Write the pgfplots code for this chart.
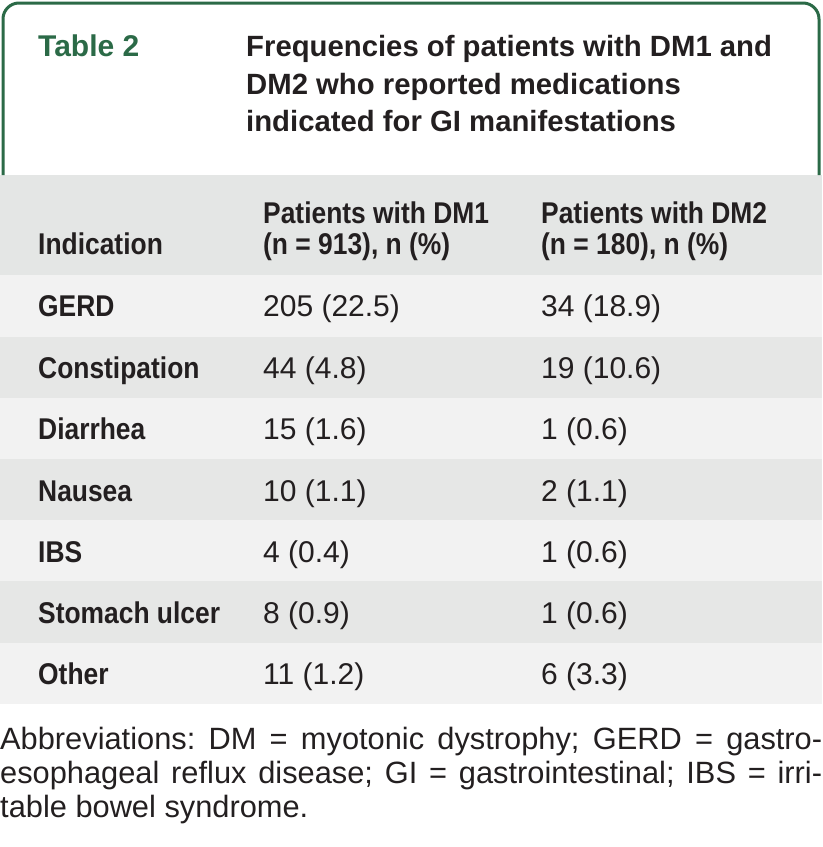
\documentclass[border=0pt]{standalone}
\usepackage{pgfplots}
\pgfplotsset{compat=1.18}
\usepackage{pgfplotstable}
\usepackage{fontspec}
\setmainfont{Liberation Sans}
\newfontfamily\bodyb[FakeStretch=0.88]{Liberation Sans Bold}
\newfontfamily\bodyr[FakeStretch=1.0]{Liberation Sans}
\definecolor{tgreen}{HTML}{2B6A47}
\definecolor{txt}{HTML}{231F20}
\definecolor{hdr}{HTML}{E4E6E5}
\definecolor{rowa}{HTML}{F2F2F2}
\definecolor{rowb}{HTML}{E6E7E6}
\pgfplotstableread[col sep=comma]{
y,ind,dmone,dmtwo
316,GERD,205 (22.5),34 (18.9)
378,Constipation,44 (4.8),19 (10.6)
439,Diarrhea,15 (1.6),1 (0.6)
501,Nausea,10 (1.1),2 (1.1)
562,IBS,4 (0.4),1 (0.6)
623,Stomach ulcer,8 (0.9),1 (0.6)
684,Other,11 (1.2),6 (3.3)
}\rows
\begin{document}
\begin{tikzpicture}
\begin{axis}[x=1pt,y=1pt,xmin=0,xmax=822,ymin=0,ymax=847,y dir=reverse,
  hide axis,clip=false,scale only axis]
\path (axis cs:0,0) rectangle (axis cs:822,847);
% bands
\fill[hdr] (axis cs:0,175) rectangle (axis cs:822,275);
\fill[rowa] (axis cs:0,275) rectangle (axis cs:822,337);
\fill[rowb] (axis cs:0,337) rectangle (axis cs:822,398);
\fill[rowa] (axis cs:0,398) rectangle (axis cs:822,459);
\fill[rowb] (axis cs:0,459) rectangle (axis cs:822,520);
\fill[rowa] (axis cs:0,520) rectangle (axis cs:822,581);
\fill[rowb] (axis cs:0,581) rectangle (axis cs:822,643);
\fill[rowa] (axis cs:0,643) rectangle (axis cs:822,704);
% frame
\draw[tgreen,line width=3pt,rounded corners=16pt] (axis cs:3,175) -- (axis cs:3,3) -- (axis cs:819,3) -- (axis cs:819,175);
% title
\node[anchor=base west,inner sep=0pt,text=tgreen,font=\fontsize{30}{37}\selectfont\bfseries] at (axis cs:38,56) {Table 2};
\node[anchor=base west,inner sep=0pt,text=txt,font=\fontsize{29.3}{37}\selectfont\bfseries] at (axis cs:246,56) {Frequencies of patients with DM1 and};
\node[anchor=base west,inner sep=0pt,text=txt,font=\fontsize{29.3}{37}\selectfont\bfseries] at (axis cs:246,94) {DM2 who reported medications};
\node[anchor=base west,inner sep=0pt,text=txt,font=\fontsize{29.3}{37}\selectfont\bfseries] at (axis cs:246,131) {indicated for GI manifestations};
% header
\node[anchor=base west,inner sep=0pt,text=txt,font=\fontsize{30}{34}\bodyb] at (axis cs:38,254) {Indication};
\node[anchor=base west,inner sep=0pt,text=txt,font=\fontsize{30}{34}\bodyb] at (axis cs:263,223) {Patients with DM1};
\node[anchor=base west,inner sep=0pt,text=txt,font=\fontsize{30}{34}\bodyb] at (axis cs:263,254) {(n = 913), n (\%)};
\node[anchor=base west,inner sep=0pt,text=txt,font=\fontsize{30}{34}\bodyb] at (axis cs:541,223) {Patients with DM2};
\node[anchor=base west,inner sep=0pt,text=txt,font=\fontsize{30}{34}\bodyb] at (axis cs:541,254) {(n = 180), n (\%)};
% rows
\addplot[only marks,mark=none,nodes near coords,point meta=explicit symbolic,
  nodes near coords style={anchor=base west,inner sep=0pt,text=txt,font=\fontsize{30}{34}\bodyb}]
  table[x expr=38,y=y,meta=ind]{\rows};
\addplot[only marks,mark=none,nodes near coords,point meta=explicit symbolic,
  nodes near coords style={anchor=base west,inner sep=0pt,text=txt,font=\fontsize{30}{34}\bodyr}]
  table[x expr=263,y=y,meta=dmone]{\rows};
\addplot[only marks,mark=none,nodes near coords,point meta=explicit symbolic,
  nodes near coords style={anchor=base west,inner sep=0pt,text=txt,font=\fontsize{30}{34}\bodyr}]
  table[x expr=541,y=y,meta=dmtwo]{\rows};
% footnote
\node[anchor=north west,inner sep=0pt,text=txt] at (axis cs:0,727) {\parbox[t]{822pt}{\fontsize{30.8}{34}\bodyr\frenchspacing\hyphenpenalty=10000\rightskip=0pt plus 0pt\parfillskip=0pt plus 1fil
Abbreviations: DM = myotonic dystrophy; GERD = gastro-\linebreak esophageal reflux disease; GI = gastrointestinal; IBS = irri-\linebreak table bowel syndrome.}};
\end{axis}
\end{tikzpicture}
\end{document}
